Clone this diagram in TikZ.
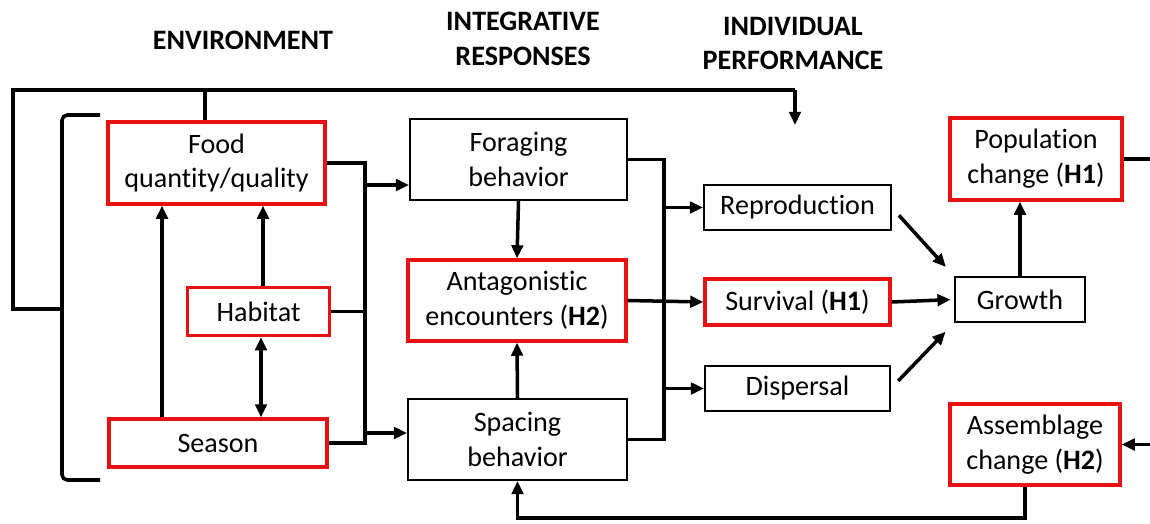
\documentclass[tikz,border=0pt]{standalone}
\usepackage{fontspec}
\setmainfont[Ligatures=NoCommon]{Carlito}
\usetikzlibrary{arrows.meta}
\definecolor{boxred}{RGB}{232,16,16}

\begin{document}
\begin{tikzpicture}[x=0.02cm,y=-0.02cm,
  box/.style={draw,line width=1pt,align=center,inner sep=1pt,font=\fontsize{16}{19.8}\selectfont},
  redbox/.style={box,draw=boxred,line width=1.8pt},
  size/.style 2 args={minimum width=#1,minimum height=#2},
  head/.style={align=center,font=\fontsize{16}{19.8}\selectfont\bfseries},
  link/.style={line width=2pt},
  arr/.style={link,-{Triangle[length=7.5pt,width=6.5pt]}},
  arrs/.style={link,{Triangle[length=7.5pt,width=6.5pt]}-{Triangle[length=7.5pt,width=6.5pt]}}]
\useasboundingbox (0,0) rectangle (1150,524);

\node[head] (henv) at (243,40) {ENVIRONMENT};
\node[head] (hint) at (523,38.5) {INTEGRATIVE\\RESPONSES};
\node[head] (hind) at (793,43.5) {INDIVIDUAL\\PERFORMANCE};

\node[redbox,size={4.34cm}{1.64cm}] (food) at (216.5,163) {Food\\quantity/quality};
\node[redbox,size={2.84cm}{0.96cm}] (habitat) at (258.5,311.5) {Habitat};
\node[redbox,size={4.36cm}{0.96cm}] (season) at (218,443) {Season};

\node[box,size={4.34cm}{1.62cm}] (forag) at (518.5,159.5) {Foraging\\behavior};
\node[redbox,size={4.36cm}{1.62cm}] (antag) at (517,300.5) {Antagonistic\\encounters (\textbf{H2})};
\node[box,size={4.38cm}{1.62cm}] (spacing) at (517.5,439.5) {Spacing\\behavior};

\node[box,size={3.74cm}{0.9cm}] (repro) at (797.5,207.5) {Reproduction};
\node[redbox,size={3.7cm}{0.92cm}] (surv) at (797.5,302) {Survival (\textbf{H1})};
\node[box,size={3.7cm}{0.9cm}] (disp) at (797.5,388.5) {Dispersal};

\node[box,size={2.6cm}{0.9cm}] (growth) at (1020,299.5) {Growth};
\node[redbox,size={3.44cm}{1.64cm}] (popch) at (1036,159) {Population\\change (\textbf{H1})};
\node[redbox,size={3.4cm}{1.62cm}] (assem) at (1035,444.5) {Assemblage\\change (\textbf{H2})};

\coordinate (brtop) at (100,115);
\coordinate (brbot) at (100,480);
\coordinate (brmid) at (62,309);
\coordinate (loop) at (13,90);
\coordinate (fbr) at (205,90);
\coordinate (perfin) at (795,125);
\coordinate (envbus) at (365,300);
\coordinate (perfbus) at (664,300);
\coordinate (lowbus) at (517.5,518);
\coordinate (redge) at (1150,300);

\draw[link,rounded corners=3pt] (brtop) -- (62,115) -- (62,480) -- (brbot);
\draw[link] (brmid) -| (loop) -| (perfin |- loop);
\draw[arr] (perfin |- loop) -- (perfin);
\draw[link] (fbr) -- (fbr |- food.north);

\draw[arr] (season.north -| 162,0) -- (food.south -| 162,0);
\draw[arr] (habitat.north -| 263,0) -- (food.south -| 263,0);
\draw[arrs] (habitat.south -| 261,0) -- (season.north -| 261,0);

\draw[link] (food.east) -| (envbus) |- (season.east);
\draw[link] (habitat.east) -- (habitat.east -| envbus);
\draw[arr] (envbus |- 0,185) -- (forag.west |- 0,185);
\draw[arr] (envbus |- 0,433) -- (spacing.west |- 0,433);

\draw[arr] (forag.south) -- (antag.north);
\draw[arr] (spacing.north) -- (antag.south);

\draw[link] (forag.east) -| (perfbus) |- (spacing.east);
\draw[arr] (perfbus |- repro.west) -- (repro.west);
\draw[arr] (antag.east) -- (surv.west);
\draw[arr] (perfbus |- disp.west) -- (disp.west);

\draw[arr,shorten <=6pt,shorten >=7pt] (repro.east) -- (growth.north west);
\draw[arr,shorten >=2pt] (surv.east) -- (growth.west);
\draw[arr,shorten <=6pt,shorten >=7pt] (disp.east) -- (growth.south west);
\draw[arr] (growth.north) -- (growth.north |- popch.south);

\draw[link] (popch.east) -- (popch.east -| redge);
\draw[arr] (assem.east -| redge) -- (assem.east);
\draw[arr] (assem.south -| 1025,0) |- (lowbus) -- (spacing.south);
\end{tikzpicture}
\end{document}
